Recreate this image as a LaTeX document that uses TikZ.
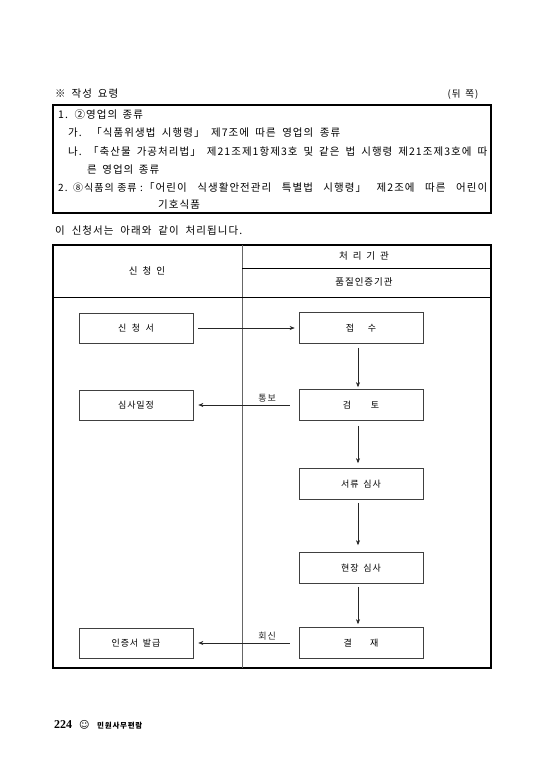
\documentclass[tikz,border=0pt]{standalone}
\usepackage{fontspec}
\setmainfont{Noto Sans CJK KR}[LetterSpace=10,WordSpace=1.6]
\newfontfamily\dejavu{DejaVu Sans}
\newfontfamily\serifnum{Liberation Serif}
\usetikzlibrary{arrows.meta}
\newcommand\fitline[2]{\makebox[#1][s]{#2}}
\begin{document}
\begin{tikzpicture}[x=1pt,y=-1pt,
  txt/.style={anchor=west,inner sep=0,font=\fontsize{10.5}{12}\selectfont},
  hdr/.style={inner sep=0,font=\fontsize{9.5}{11}\selectfont},
  lbox/.style={draw=black!75,line width=0.7pt,minimum width=114pt,minimum height=30pt,inner sep=0,font=\fontsize{9}{11}\selectfont},
  rbox/.style={draw=black!75,line width=0.7pt,minimum width=124pt,minimum height=31pt,inner sep=0,font=\fontsize{9}{11}\selectfont},
  flow/.style={-{Stealth[length=5pt,width=4pt]},line width=0.5pt,black!85},
  lbl/.style={inner sep=0,font=\fontsize{9}{11}\selectfont}]
\useasboundingbox[fill=white] (0,0) rectangle (544,770);

% heading
\node[txt] (title) at (55,94) {\fitline{63pt}{※ 작성 요령}};
\node[hdr] (side) at (463,95) {(뒤 쪽)};

% notes box
\draw[line width=1.2pt] (53,105) rectangle (491,213);
\node[txt] (n1) at (58,115) {1. ②영업의 종류};
\node[txt] (n2) at (68,133) {\fitline{272pt}{가. 「식품위생법 시행령」 제7조에 따른 영업의 종류}};
\node[txt] (n3) at (68,152) {\fitline{419pt}{나.\hspace{0.6em}「축산물 가공처리법」 제21조제1항제3호 및 같은 법 시행령 제21조제3호에 따}};
\node[txt] (n4) at (87,170) {른 영업의 종류};
\node[txt,font=\fontsize{10}{12}\selectfont] (n5a) at (58,188) {\fitline{82pt}{2. ⑧식품의 종류 :}};
\node[txt] (n5b) at (144,188) {\fitline{343pt}{「어린이 식생활안전관리 특별법 시행령」 제2조에 따른 어린이}};
\node[txt] (n6) at (158,205) {기호식품};

\node[txt] (intro) at (55,231) {\fitline{187pt}{이 신청서는 아래와 같이 처리됩니다.}};

% table
\draw[line width=1.2pt] (53,245) rectangle (491,668);
\draw[line width=0.8pt,black!60] (242,245) -- (242,668);
\draw[line width=0.6pt] (242,268) -- (491,268);
\draw[line width=0.8pt] (53,297) -- (491,297);
\node[hdr] (h1) at (364,256) {처 리 기 관};
\node[hdr] (h2) at (364,282) {품질인증기관};
\node[hdr] (h3) at (147,271) {신 청 인};

% boxes
\node[lbox] (app) at (136,328) {신\hspace{0.6em}청\hspace{0.6em}서};
\node[lbox] (sched) at (136,405) {심사일정};
\node[lbox] (cert) at (136,643) {인증서 발급};
\node[rbox] (recv) at (361,328) {접\hspace{1.5em}수};
\node[rbox] (rev) at (361,405) {검\hspace{2.2em}토};
\node[rbox] (doc) at (361,484) {서류 심사};
\node[rbox] (site) at (361,568) {현장 심사};
\node[rbox] (appr) at (361,643) {결\hspace{2em}재};

% arrows
\draw[flow,shorten <=5pt,shorten >=4pt] (app) -- (recv);
\draw[flow,shorten <=4pt,shorten >=2pt] ([xshift=-3pt]recv.south) -- ([xshift=-3pt]rev.north);
\draw[flow,shorten <=9pt,shorten >=5pt] (rev) -- node[lbl,pos=0.3,above=3pt] (t1) {통보} (sched);
\draw[flow,shorten <=5pt,shorten >=5pt] ([xshift=-3pt]rev.south) -- ([xshift=-3pt]doc.north);
\draw[flow,shorten <=3pt,shorten >=7pt] ([xshift=-3pt]doc.south) -- ([xshift=-3pt]site.north);
\draw[flow,shorten <=3pt,shorten >=3pt] ([xshift=-3pt]site.south) -- ([xshift=-3pt]appr.north);
\draw[flow,shorten <=9pt,shorten >=5pt] (appr) -- node[lbl,pos=0.3,above=3pt] (t2) {회신} (cert);

% footer
\node[anchor=west,inner sep=0,font=\serifnum\bfseries\fontsize{12}{14}\selectfont] (pg) at (54,725) {224};
\node[anchor=west,inner sep=0,font=\dejavu\fontsize{10}{12}\selectfont] (smile) at (79,725) {☺};
\node[anchor=west,inner sep=0,font=\bfseries\fontsize{7.5}{9}\selectfont] (book) at (97,726) {민원사무편람};
\end{tikzpicture}
\end{document}
